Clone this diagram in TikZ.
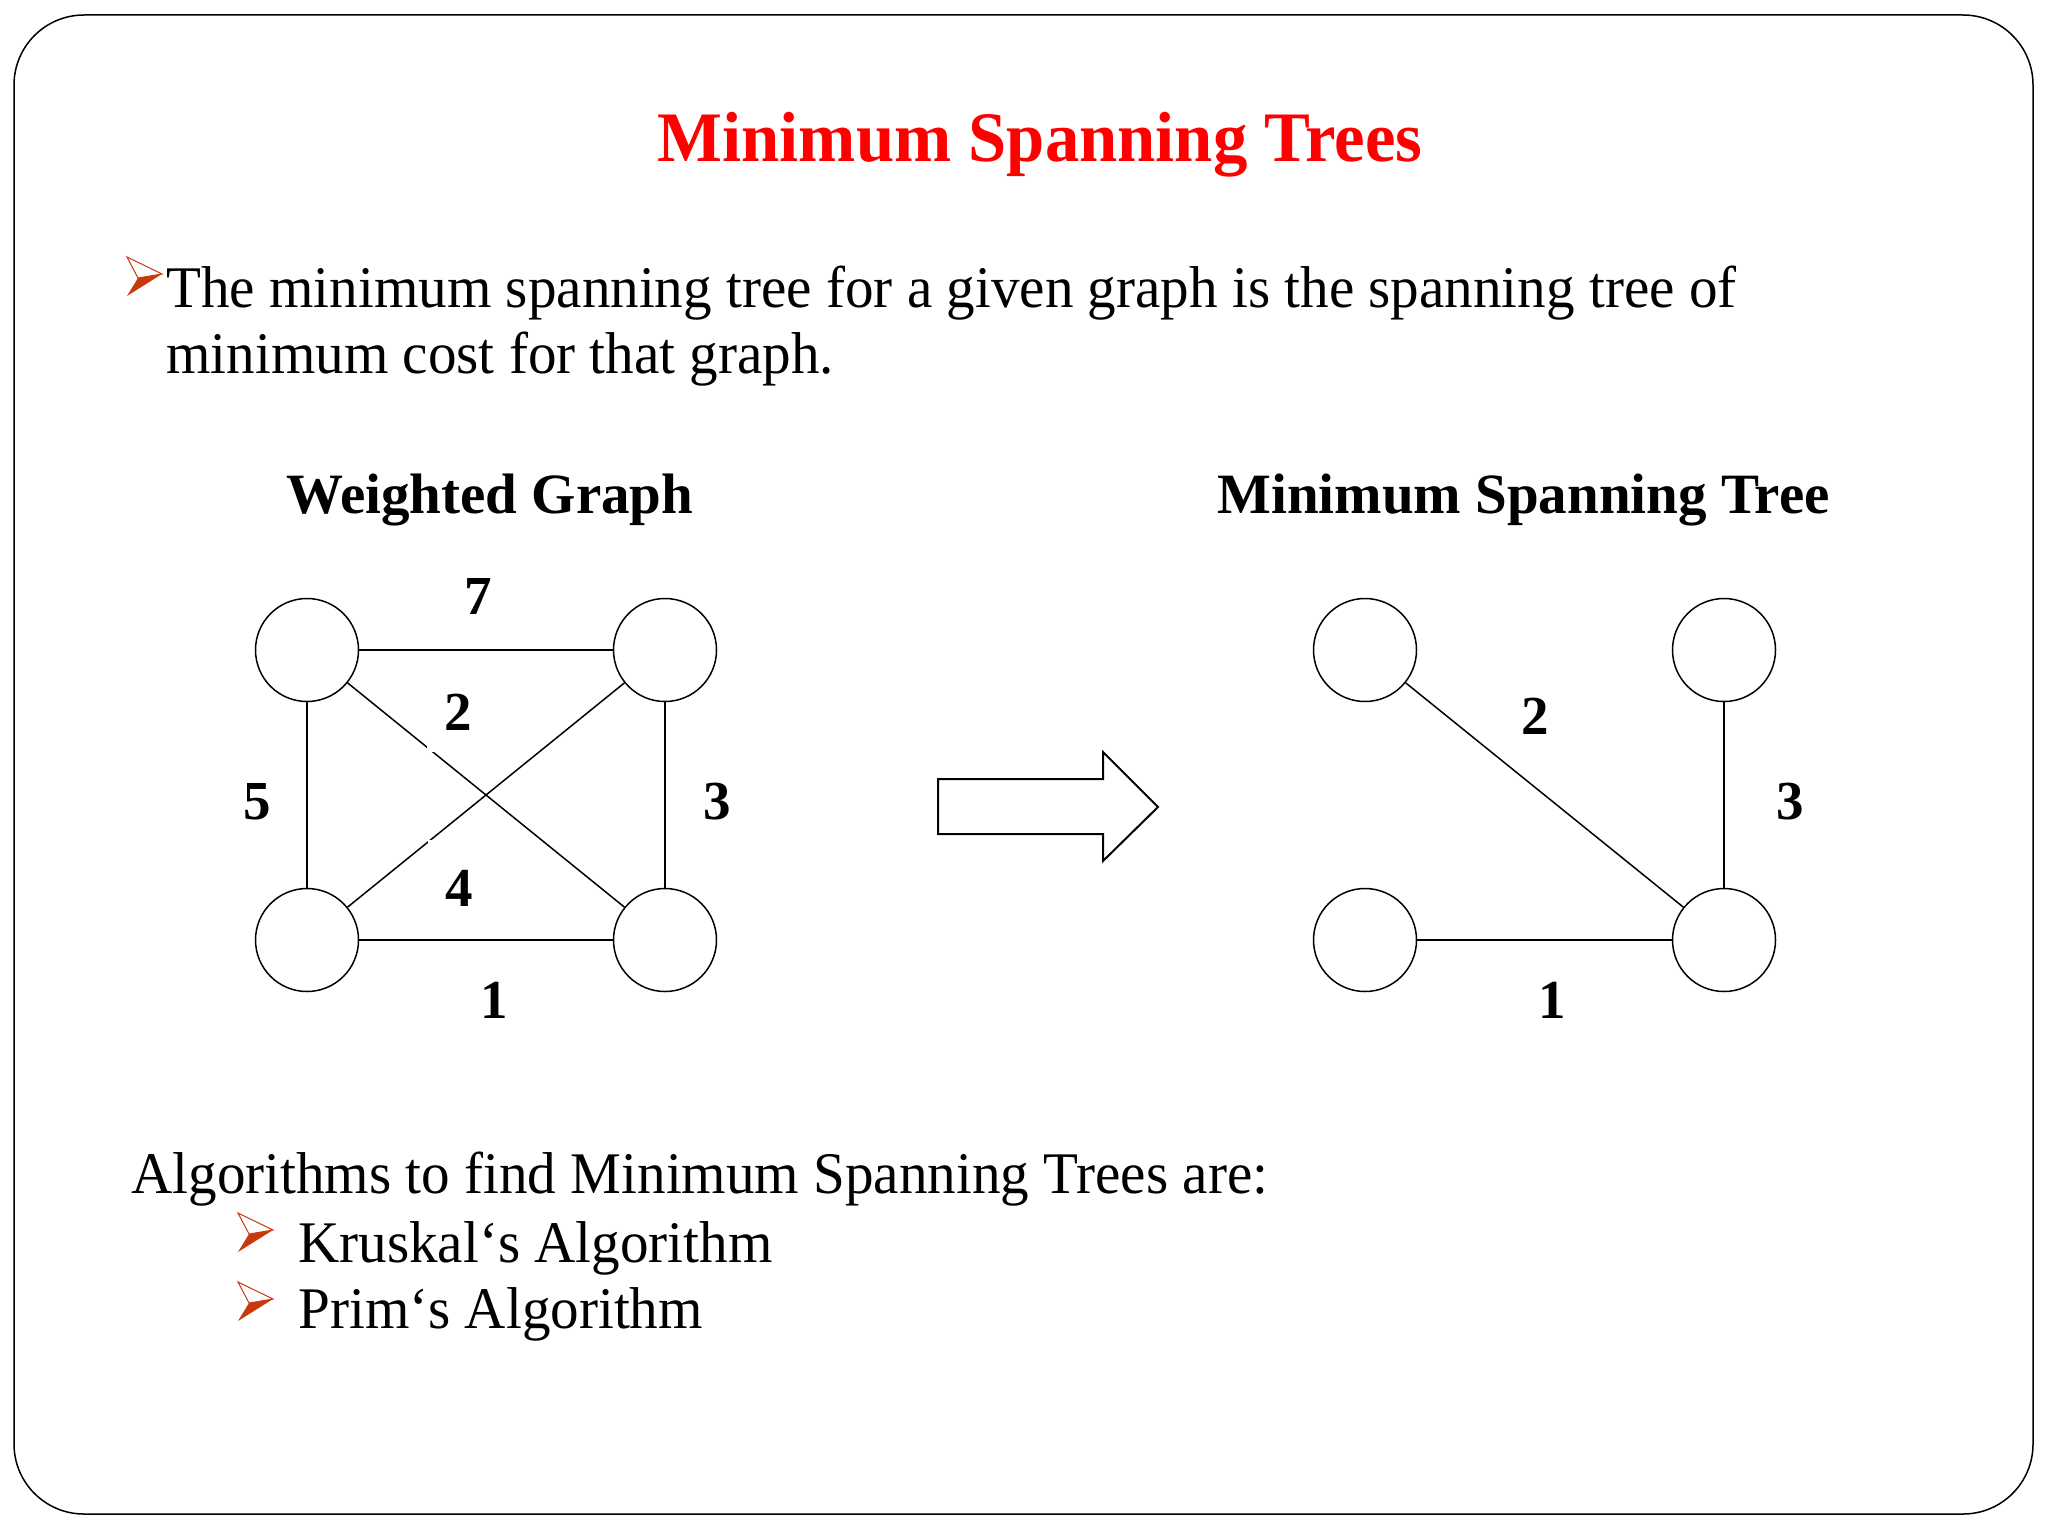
\documentclass[tikz,border=0pt]{standalone}
\usepackage{fontspec}
\setmainfont{Liberation Serif}
\newfontfamily\narrowserif[FakeStretch=0.968]{Liberation Serif}
\definecolor{bulletred}{RGB}{200,56,10}
\definecolor{titlered}{RGB}{255,0,0}
\newcommand\tribullet[2]{%
  \begin{scope}[shift={(#1,#2)}]
    \fill[bulletred] (11,21) -- (35,17) -- (0,39) -- cycle;
    \draw[bulletred, line width=0.5pt, fill=white, line join=miter] (0,0) -- (35,17) -- (11,21) -- cycle;
  \end{scope}}
\begin{document}
\begin{tikzpicture}[x=0.5pt,y=-0.5pt,
  vertex/.style={circle, draw, line width=0.75pt, minimum size=51.5pt, inner sep=0pt, fill=white},
  edge/.style={line width=0.75pt},
  wt/.style={font=\fontsize{27.5}{30}\selectfont\bfseries, inner sep=0pt},
  txt/.style={font=\narrowserif\fontsize{29.5}{34}\selectfont, inner sep=0pt, anchor=base west},
  sub/.style={font=\fontsize{28.5}{32}\selectfont\bfseries, inner sep=0pt, anchor=base west}]
\useasboundingbox (0,0) rectangle (2048,1536);
\draw[line width=0.75pt, rounded corners=35pt] (14,15) rectangle (2033,1514);

% title
\node[font=\narrowserif\fontsize{35.5}{40}\selectfont\bfseries, text=titlered, inner sep=0pt, anchor=base] (title) at (1040,162) {Minimum Spanning Trees};

% intro text
\tribullet{127}{257}
\node[txt] (l1) at (166,307) {The minimum spanning tree for a given graph is the spanning tree of};
\node[txt] (l2) at (166,373) {minimum cost for that graph.};

% subheadings
\node[sub] (h1) at (286,513) {Weighted Graph};
\node[sub] (h2) at (1217,513) {Minimum Spanning Tree};

% weighted graph
\node[vertex] (a) at (307,650) {};
\node[vertex] (b) at (665,650) {};
\node[vertex] (c) at (307,940) {};
\node[vertex] (d) at (665,940) {};
\draw[edge] (a) -- (b);
\draw[edge] (a) -- (c);
\draw[edge] (b) -- (d);
\draw[edge] (c) -- (d);
\draw[edge] (a) -- (d);
\draw[edge] (c) -- (b);
\node[wt] (w7) at (478,596) {7};
\node[wt, fill=white, minimum width=31pt, minimum height=40pt] (w2) at (458,712) {2};
\node[wt] (w5) at (257,802) {5};
\node[wt] (w3) at (717,802) {3};
\node[wt, fill=white, minimum width=31pt, minimum height=48pt] (w4) at (459,888) {4};
\node[wt] (w1) at (494,1000) {1};

% big arrow
\draw[line width=1pt, fill=white, line join=miter] (938,779) -- (1103,779) -- (1103,752) -- (1158,807) -- (1103,861) -- (1103,834) -- (938,834) -- cycle;

% minimum spanning tree
\node[vertex] (p) at (1365,650) {};
\node[vertex] (q) at (1724,650) {};
\node[vertex] (r) at (1365,940) {};
\node[vertex] (s) at (1724,940) {};
\draw[edge] (p) -- (s);
\draw[edge] (q) -- (s);
\draw[edge] (r) -- (s);
\node[wt] (m2) at (1535,716) {2};
\node[wt] (m3) at (1790,802) {3};
\node[wt] (m1) at (1552,1000) {1};

% algorithms
\node[txt] (alg) at (131,1193) {Algorithms to find Minimum Spanning Trees are:};
\tribullet{238}{1213}
\node[txt] (k) at (298,1262) {Kruskal‘s Algorithm};
\tribullet{238}{1282}
\node[txt] (pr) at (298,1328) {Prim‘s Algorithm};
\end{tikzpicture}
\end{document}
